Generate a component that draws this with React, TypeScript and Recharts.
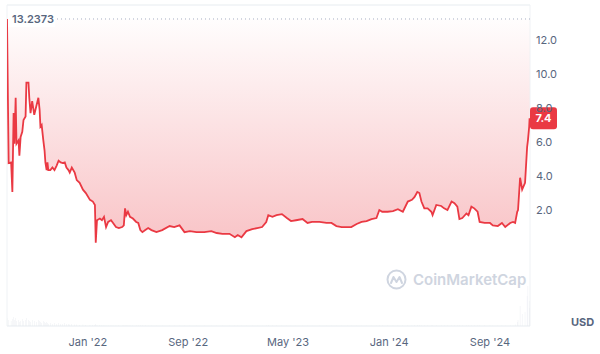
import React from "react";
import {
	ComposedChart,
	Area,
	Bar,
	XAxis,
	YAxis,
	CartesianGrid,
	ReferenceLine,
	ReferenceArea,
} from "recharts";

const dates = [
	"2021-06-19", "2021-06-23", "2021-06-29", "2021-07-02", "2021-07-05", "2021-07-07", "2021-07-10", "2021-07-12",
	"2021-07-17", "2021-07-19", "2021-07-22", "2021-07-26", "2021-07-29", "2021-08-03", "2021-08-05", "2021-08-10",
	"2021-08-12", "2021-08-15", "2021-08-19", "2021-08-24", "2021-08-29", "2021-09-03", "2021-09-06", "2021-09-08",
	"2021-09-11", "2021-09-15", "2021-09-18", "2021-09-20", "2021-09-23", "2021-09-25", "2021-09-27", "2021-10-02",
	"2021-10-07", "2021-10-12", "2021-10-17", "2021-10-22", "2021-10-27", "2021-11-01", "2021-11-06", "2021-11-10",
	"2021-11-15", "2021-11-18", "2021-11-23", "2021-11-30", "2021-12-05", "2021-12-12", "2021-12-20", "2021-12-27",
	"2022-01-06", "2022-01-13", "2022-01-18", "2022-01-20", "2022-01-23", "2022-01-30", "2022-02-04", "2022-02-09",
	"2022-02-14", "2022-02-19", "2022-02-26", "2022-03-03", "2022-03-10", "2022-03-17", "2022-03-25", "2022-03-29",
	"2022-04-01", "2022-04-04", "2022-04-08", "2022-04-13", "2022-04-20", "2022-04-28", "2022-05-03", "2022-05-08",
	"2022-05-13", "2022-05-20", "2022-05-27", "2022-06-04", "2022-06-16", "2022-06-30", "2022-07-18", "2022-07-29",
	"2022-08-11", "2022-08-23", "2022-09-05", "2022-09-21", "2022-10-10", "2022-10-27", "2022-11-09", "2022-11-23",
	"2022-12-10", "2022-12-23", "2022-12-30", "2023-01-08", "2023-01-20", "2023-02-03", "2023-02-15", "2023-02-27",
	"2023-03-09", "2023-03-14", "2023-03-24", "2023-04-03", "2023-04-16", "2023-04-28", "2023-05-08", "2023-05-20",
	"2023-06-05", "2023-06-17", "2023-06-28", "2023-07-16", "2023-08-02", "2023-08-14", "2023-08-26", "2023-09-08",
	"2023-09-22", "2023-10-01", "2023-10-14", "2023-10-26", "2023-11-07", "2023-11-19", "2023-12-01", "2023-12-08",
	"2023-12-15", "2023-12-28", "2024-01-10", "2024-01-22", "2024-02-03", "2024-02-15", "2024-02-25", "2024-03-02",
	"2024-03-09", "2024-03-14", "2024-03-19", "2024-03-26", "2024-04-03", "2024-04-12", "2024-04-15", "2024-04-24",
	"2024-05-06", "2024-05-13", "2024-05-21", "2024-05-31", "2024-06-07", "2024-06-14", "2024-06-19", "2024-06-26",
	"2024-07-06", "2024-07-11", "2024-07-18", "2024-07-25", "2024-08-02", "2024-08-07", "2024-08-19", "2024-09-01",
	"2024-09-08", "2024-09-20", "2024-09-30", "2024-10-08", "2024-10-20", "2024-10-27", "2024-11-01", "2024-11-06",
	"2024-11-08", "2024-11-13", "2024-11-18", "2024-11-25", "2024-11-30", "2024-12-02", "2024-12-05", "2024-12-06",
];

const prices = [
	13.2373, 4.76, 4.8, 3.06, 7.7, 5.9, 8.6, 5.9,
	6.1, 5.2, 6.3, 6.6, 7.3, 7.5, 9.5, 9.5,
	8.6, 7.7, 8.4, 7.6, 8.1, 8.6, 7.9, 6.9,
	7.0, 6.1, 5.5, 4.8, 4.35, 4.8, 4.35, 4.35,
	4.5, 4.35, 4.6, 4.9, 4.8, 4.76, 4.8, 4.5,
	4.35, 4.2, 4.5, 4.2, 3.76, 3.6, 3.2, 3.0,
	2.6, 2.5, 2.3, 0.08, 1.4, 1.5, 1.4, 1.6,
	1.0, 1.3, 1.4, 1.24, 1.0, 0.94, 1.0, 1.1,
	2.1, 1.7, 1.9, 1.6, 1.5, 1.3, 1.24, 0.82,
	0.7, 0.82, 0.94, 0.82, 0.7, 0.82, 1.06, 1.0,
	1.1, 0.7, 0.76, 0.7, 0.7, 0.76, 0.65, 0.6,
	0.6, 0.4, 0.53, 0.4, 0.76, 0.88, 0.94, 1.0,
	1.3, 1.7, 1.6, 1.7, 1.76, 1.53, 1.35, 1.4,
	1.47, 1.24, 1.3, 1.3, 1.24, 1.24, 1.06, 1.0,
	1.0, 1.0, 1.18, 1.3, 1.35, 1.47, 1.53, 2.0,
	1.9, 1.9, 1.94, 2.05, 1.9, 2.5, 2.6, 2.76,
	3.06, 3.0, 2.5, 2.1, 2.1, 1.9, 1.7, 2.3,
	2.24, 2.1, 2.0, 2.5, 2.4, 2.2, 1.47, 1.53,
	1.8, 1.7, 2.2, 2.1, 1.9, 1.3, 1.24, 1.24,
	1.1, 1.06, 1.24, 1.0, 1.24, 1.3, 1.24, 1.9,
	2.0, 3.9, 3.2, 3.6, 5.7, 6.1, 6.9, 7.4,
];

const volumes = [
	8, 6, 5, 7, 9, 6, 8, 5,
	6, 4, 5, 7, 5, 6, 8, 6,
	5, 4, 6, 5, 4, 6, 5, 4,
	3, 5, 4, 3, 4, 3, 2, 3,
	2, 3, 2, 3, 2, 2, 3, 2,
	2, 1.5, 2, 1.5, 1.5, 1, 1.5, 1,
	1, 1, 1, 2, 1, 1, 0.8, 0.8,
	0.6, 0.6, 0.5, 0.5, 0.5, 0.5, 0.5, 0.5,
	0.8, 0.5, 0.5, 0.5, 0.4, 0.4, 0.4, 0.4,
	0.4, 0.4, 0.3, 0.3, 0.3, 0.3, 0.3, 0.3,
	0.3, 0.3, 0.3, 0.3, 0.3, 0.3, 0.3, 0.3,
	0.3, 0.3, 0.3, 0.3, 0.3, 0.3, 0.3, 0.3,
	0.6, 0.8, 0.5, 0.4, 0.4, 0.3, 0.3, 0.3,
	0.3, 0.3, 0.3, 0.3, 0.3, 0.3, 0.3, 0.3,
	0.3, 0.3, 0.3, 0.3, 0.3, 0.3, 0.3, 0.6,
	0.4, 0.4, 0.4, 0.5, 0.4, 0.6, 0.6, 0.8,
	1, 0.8, 0.6, 0.5, 0.4, 0.4, 0.4, 0.6,
	0.5, 0.4, 0.4, 0.6, 0.5, 0.4, 0.5, 0.4,
	0.4, 0.4, 0.5, 0.4, 0.4, 0.5, 0.4, 0.4,
	0.3, 0.3, 0.4, 0.3, 0.4, 0.6, 1.5, 4,
	6, 20, 12, 14, 30, 40, 25, 18,
];

const xTicks = ["2022-01-01", "2022-09-01", "2023-05-01", "2024-01-01", "2024-09-01"];
const monthNames = ["Jan", "Feb", "Mar", "Apr", "May", "Jun", "Jul", "Aug", "Sep", "Oct", "Nov", "Dec"];
const yTicks = [-2, 0, 2, 4, 6, 8, 10, 12];

const openPrice = 13.2373;
const lastPrice = prices[prices.length - 1];
const RED = "#ea3943";
const GREY = "#58667e";

const toTime = (d: string) => new Date(d + "T00:00:00Z").getTime();

const data = dates.map((d, i) => ({
	t: toTime(d),
	price: prices[i],
	vol: volumes[i],
}));

const xDomain = [toTime("2021-06-19"), toTime("2024-12-07")];
const yDomain = [-4.82, 14.06];

const fmtDate = (t: number) => {
	const d = new Date(t);
	return `${monthNames[d.getUTCMonth()]} '${String(d.getUTCFullYear()).slice(2)}`;
};

const OpenTag = (props: any) => {
	const { viewBox } = props;
	const x = viewBox.x;
	const y = viewBox.y;
	return (
		<g>
			<rect x={x + 1} y={y - 8} width={47} height={16} fill="#fff" />
			<text x={x + 5} y={y} dy="0.35em" fill={GREY} fontSize={11} fontWeight={600}>
				{openPrice}
			</text>
		</g>
	);
};

const PriceTag = (props: any) => {
	const { viewBox } = props;
	const x = viewBox.x + viewBox.width;
	const y = viewBox.y;
	return (
		<g>
			<rect x={x} y={y - 11} width={27} height={22} rx={3} fill={RED} />
			<text x={x + 13.5} y={y} dy="0.35em" textAnchor="middle" fill="#fff" fontSize={11} fontWeight={700}>
				{lastPrice}
			</text>
		</g>
	);
};

export default function App() {
	return (
		<div style={{ position: "absolute", left: 0, top: 0, width: 600, height: 354, background: "#fff", fontFamily: "Inter, sans-serif" }}>
			<ComposedChart
				width={600}
				height={354}
				data={data}
				margin={{ top: 5, right: 0, left: 7, bottom: 0 }}
			>
				<defs>
					<linearGradient id="redFill" x1="0" y1="0" x2="0" y2="1">
						<stop offset="0%" stopColor={RED} stopOpacity={0.01} />
						<stop offset="100%" stopColor={RED} stopOpacity={0.3} />
					</linearGradient>
				</defs>
				<CartesianGrid vertical={false} stroke="#eff2f5" />
				<XAxis
					dataKey="t"
					type="number"
					domain={xDomain}
					allowDataOverflow
					ticks={xTicks.map(toTime)}
					tickFormatter={fmtDate}
					axisLine={false}
					tickLine={false}
					tickMargin={6}
					height={28}
					tick={{ fill: GREY, fontSize: 11 }}
				/>
				<YAxis
					yAxisId="price"
					orientation="right"
					domain={yDomain}
					allowDataOverflow
					ticks={yTicks}
					tickFormatter={(v: number) => (v > 0 ? v.toFixed(1) : "")}
					axisLine={false}
					tickLine={false}
					tickSize={4}
					tickMargin={2}
					width={70}
					tick={{ fill: GREY, fontSize: 11 }}
				/>
				<YAxis yAxisId="vol" hide domain={[0, 320]} />
				<ReferenceArea
					yAxisId="price"
					x1={xDomain[0]}
					x2={xDomain[1]}
					y1={yDomain[0]}
					y2={yDomain[1]}
					fill="none"
					stroke="#eff2f5"
					ifOverflow="visible"
				/>
				<Bar yAxisId="vol" dataKey="vol" fill="#e6e9ee" barSize={1} isAnimationActive={false} />
				<Area
					yAxisId="price"
					type="linear"
					dataKey="price"
					baseValue={openPrice}
					stroke={RED}
					strokeWidth={1.8}
					fill="url(#redFill)"
					fillOpacity={1}
					dot={false}
					activeDot={false}
					isAnimationActive={false}
				/>
				<ReferenceLine
					yAxisId="price"
					y={openPrice}
					stroke="#a6b0c3"
					strokeDasharray="1 3"
					label={<OpenTag />}
				/>
				<ReferenceLine
					yAxisId="price"
					y={lastPrice}
					stroke="none"
					label={<PriceTag />}
				/>
			</ComposedChart>
			<div style={{ position: "absolute", left: 386, top: 269, display: "flex", alignItems: "center", gap: 6, color: "#cfd5e0" }}>
				<svg width={21} height={21} viewBox="0 0 21 21">
					<circle cx={10.5} cy={10.5} r={9} fill="none" stroke="#cfd5e0" strokeWidth={2} />
					<path d="M5 14 L7.5 8 L10.5 13 L13.5 8 L16 14" fill="none" stroke="#cfd5e0" strokeWidth={2} strokeLinejoin="round" strokeLinecap="round" />
				</svg>
				<span style={{ fontSize: 15, fontWeight: 600 }}>CoinMarketCap</span>
			</div>
			<div style={{ position: "absolute", left: 571, top: 315, fontSize: 11, fontWeight: 700, color: GREY }}>USD</div>
		</div>
	);
}
